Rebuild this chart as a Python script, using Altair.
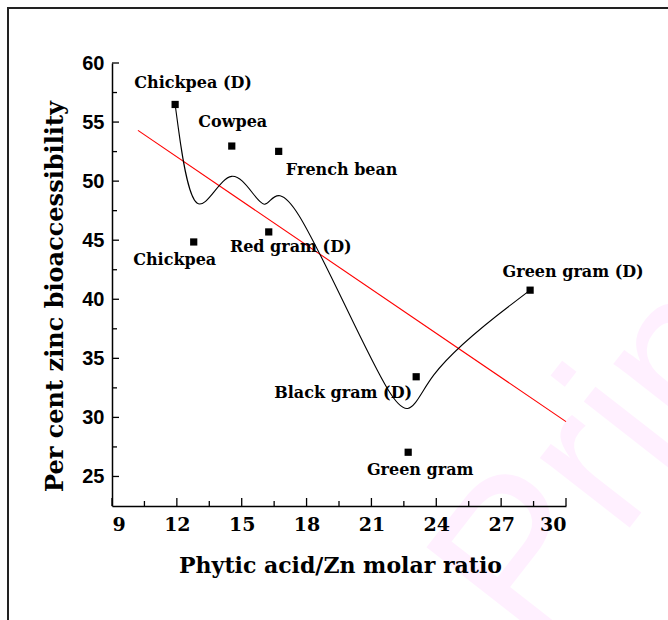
import altair as alt
import pandas as pd

# Pulses: phytic acid/Zn molar ratio vs per cent zinc bioaccessibility
pulses = ["Chickpea (D)", "Cowpea", "French bean", "Chickpea", "Red gram (D)",
          "Black gram (D)", "Green gram", "Green gram (D)"]
molar_ratio = [11.92, 14.54, 16.71, 12.78, 16.25, 23.07, 22.70, 28.34]
bioaccess = [56.49, 52.97, 52.52, 44.85, 45.70, 33.44, 27.05, 40.77]

# label offsets (pixels) relative to each point
label_dx = [18, 1, 63, -19, 22, -73, 12, 43]
label_dy = [-21, -24, 19, 18, 15, 16, 18, -18]

x_major = [9, 12, 15, 18, 21, 24, 27, 30]
x_minor = [10.5, 13.5, 16.5, 19.5, 22.5, 25.5, 28.5]
y_major = [25, 30, 35, 40, 45, 50, 55, 60]
y_minor = [27.5, 32.5, 37.5, 42.5, 47.5, 52.5, 57.5]

W, H = 454, 443
SERIF = "DejaVu Serif"

df = pd.DataFrame({"pulse": pulses, "ratio": molar_ratio, "access": bioaccess})

xs = alt.Scale(domain=[9, 30], nice=False, zero=False)
ys = alt.Scale(domain=[22.5, 60], nice=False, zero=False)

x_axis = alt.Axis(values=x_major, ticks=False, grid=False, domainColor="black",
                  domainWidth=1.5, labelFont=SERIF, labelFontWeight="bold",
                  labelFontSize=19, labelColor="black", labelPadding=9,
                  title="Phytic acid/Zn molar ratio", titleFont=SERIF,
                  titleFontWeight="bold", titleFontSize=22, titleColor="black",
                  titleBaseline="alphabetic", titleX=W / 2 + 1, titleY=66, zindex=2)
y_axis = alt.Axis(values=y_major, ticks=False, grid=False, domainColor="black",
                  domainWidth=1.5, labelFont="Liberation Sans", labelFontWeight="bold",
                  labelFontSize=20, labelColor="black", labelPadding=8,
                  title="Per cent zinc bioaccessibility", titleFont=SERIF,
                  titleFontWeight="bold", titleFontSize=24, titleColor="black",
                  titleBaseline="alphabetic", titleAngle=270, titleX=-50, titleY=233,
                  zindex=2)

base = alt.Chart(df)

# outer figure frame and faint watermark
frame = alt.Chart(pd.DataFrame({"k": [0]})).mark_rect(
    fill=None, stroke="#222222", strokeWidth=2
).encode(x=alt.value(-104), x2=alt.value(W + 130), y=alt.value(-55), y2=alt.value(H + 140))

watermark = alt.Chart(pd.DataFrame({"t": ["Print"]})).mark_text(
    font="Liberation Sans", fontSize=215, color="#fff0ff", angle=308,
    align="center", baseline="middle"
).encode(text="t:N", x=alt.value(505), y=alt.value(375))

points = base.mark_square(size=52, color="black", opacity=1).encode(
    x=alt.X("ratio:Q", scale=xs, axis=x_axis),
    y=alt.Y("access:Q", scale=ys, axis=y_axis),
)

curve = base.mark_line(interpolate="basis", color="black", strokeWidth=1.1).encode(
    x=alt.X("ratio:Q", scale=xs), y=alt.Y("access:Q", scale=ys)
)

fit = base.transform_regression("ratio", "access", extent=[10.2, 30]).mark_line(
    color="red", strokeWidth=1.1
).encode(x=alt.X("ratio:Q", scale=xs), y=alt.Y("access:Q", scale=ys))

labels = [
    base.transform_filter(alt.datum.pulse == p).mark_text(
        font=SERIF, fontWeight="bold", fontSize=16, color="black",
        align="center", baseline="middle", dx=dx, dy=dy
    ).encode(x=alt.X("ratio:Q", scale=xs), y=alt.Y("access:Q", scale=ys), text="pulse:N")
    for p, dx, dy in zip(pulses, label_dx, label_dy)
]

# inward-pointing axis ticks
xt_major = alt.Chart(pd.DataFrame({"v": x_major})).mark_rule(color="black", strokeWidth=1.3).encode(
    x=alt.X("v:Q", scale=xs), y=alt.value(H), y2=alt.value(H - 8))
xt_minor = alt.Chart(pd.DataFrame({"v": x_minor})).mark_rule(color="black", strokeWidth=1.3).encode(
    x=alt.X("v:Q", scale=xs), y=alt.value(H), y2=alt.value(H - 5))
yt_major = alt.Chart(pd.DataFrame({"v": y_major})).mark_rule(color="black", strokeWidth=1.3).encode(
    y=alt.Y("v:Q", scale=ys), x=alt.value(0), x2=alt.value(7))
yt_minor = alt.Chart(pd.DataFrame({"v": y_minor})).mark_rule(color="black", strokeWidth=1.3).encode(
    y=alt.Y("v:Q", scale=ys), x=alt.value(0), x2=alt.value(5))

chart = alt.layer(
    watermark, frame, fit, curve, points, *labels, xt_major, xt_minor, yt_major, yt_minor
).properties(
    width=W, height=H,
    autosize=alt.AutoSizeParams(type="none"),
    padding={"left": 112, "top": 63, "right": 668 - 112 - W, "bottom": 620 - 63 - H},
    background="white",
).configure_view(stroke=None)

chart.save("out.html", embed_options={"renderer": "svg", "actions": False})
